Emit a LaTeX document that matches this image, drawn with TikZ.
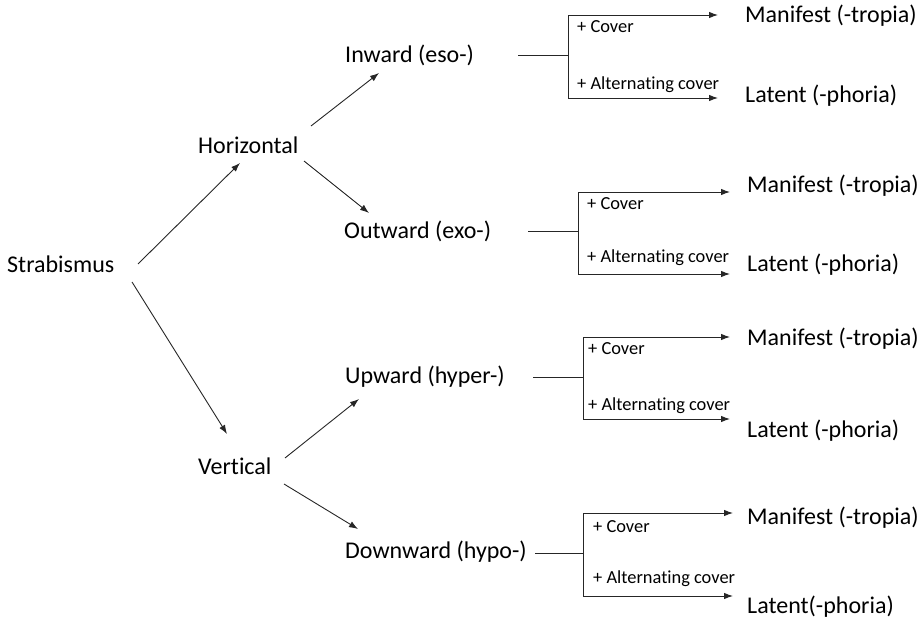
\documentclass[tikz,border=0pt]{standalone}
\usepackage{fontspec}
\setmainfont{Carlito}[Ligatures={NoCommon}]
\usetikzlibrary{arrows.meta}
\begin{document}
\begin{tikzpicture}[x=1pt,y=-1pt,
  big/.style={anchor=base west,inner sep=0pt,font=\fontsize{24}{28}\selectfont},
  small/.style={anchor=base west,inner sep=0pt,font=\fontsize{18.4}{21}\selectfont},
  conn/.style={draw=black!85,line width=0.9pt},
  arr/.style={conn,-{Latex[length=9pt,width=6.5pt]}}]
\useasboundingbox (0,0) rectangle (924,620);
% main nodes
\node[big] (strab) at (7,273) {Strabismus};
\node[big] (hor) at (198,154) {Horizontal};
\node[big] (ver) at (198,474) {Vertical};
\node[big] (inw) at (345,63) {Inward (eso-)};
\node[big] (outw) at (344,239) {Outward (exo-)};
\node[big] (upw) at (345,383) {Upward (hyper-)};
\node[big] (dnw) at (345,558) {Downward (hypo-)};
% outcomes
\node[big] (m1) at (745,23) {Manifest (-tropia)};
\node[big] (l1) at (745,103) {Latent (-phoria)};
\node[big] (m2) at (747,193) {Manifest (-tropia)};
\node[big] (l2) at (747,272) {Latent (-phoria)};
\node[big] (m3) at (747,345) {Manifest (-tropia)};
\node[big] (l3) at (747,437) {Latent (-phoria)};
\node[big] (m4) at (747,524) {Manifest (-tropia)};
\node[big] (l4) at (747,613) {Latent(-phoria)};
% labels
\node[small] (c1) at (577,33) {+ Cover};
\node[small] (a1) at (577,90) {+ Alternating cover};
\node[small] (c2) at (587,210) {+ Cover};
\node[small] (a2) at (587,263) {+ Alternating cover};
\node[small] (c3) at (588,355) {+ Cover};
\node[small] (a3) at (588,410) {+ Alternating cover};
\node[small] (c4) at (593,532) {+ Cover};
\node[small] (a4) at (593,583) {+ Alternating cover};
% arrow end points
\coordinate (sh0) at (138,264); \coordinate (sh1) at (240,163);
\coordinate (hi0) at (311,126); \coordinate (hi1) at (379,73);
\coordinate (ho0) at (304,161); \coordinate (ho1) at (369,213);
\coordinate (sv0) at (132,282); \coordinate (sv1) at (227,434);
\coordinate (vu0) at (285,458); \coordinate (vu1) at (359,399);
\coordinate (vd0) at (284,484); \coordinate (vd1) at (358,529);
\draw[arr] (sh0) -- (sh1);
\draw[arr] (hi0) -- (hi1);
\draw[arr] (ho0) -- (ho1);
\draw[arr] (sv0) -- (sv1);
\draw[arr] (vu0) -- (vu1);
\draw[arr] (vd0) -- (vd1);
% brackets
\coordinate (s1) at (518,55); \coordinate (b1) at (568,55);
\coordinate (t1) at (718,15); \coordinate (u1) at (718,98);
\coordinate (s2) at (528,231); \coordinate (b2) at (578,231);
\coordinate (t2) at (730,192); \coordinate (u2) at (730,274);
\coordinate (s3) at (533,377); \coordinate (b3) at (583,377);
\coordinate (t3) at (730,337); \coordinate (u3) at (730,419);
\coordinate (s4) at (535,553); \coordinate (b4) at (583,553);
\coordinate (t4) at (733,513); \coordinate (u4) at (733,596);
\foreach \i in {1,2,3,4}{
  \draw[conn] (s\i) -- (b\i);
  \draw[arr] (b\i) |- (t\i);
  \draw[arr] (b\i) |- (u\i);
}
\end{tikzpicture}
\end{document}
